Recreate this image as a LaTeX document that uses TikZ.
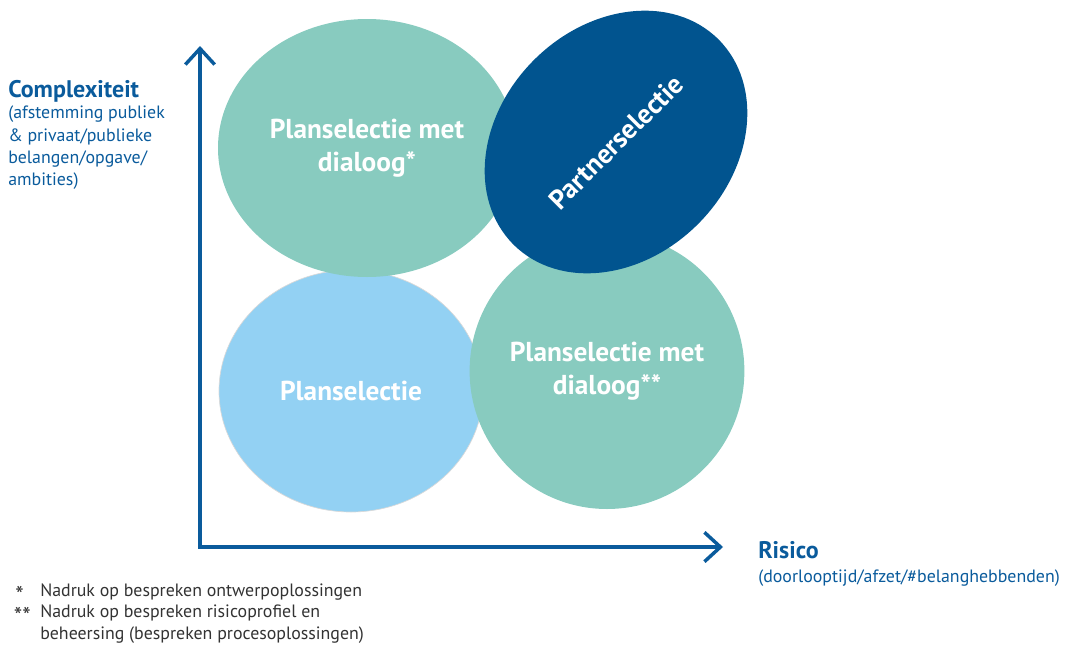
\documentclass[tikz,border=0pt]{standalone}
\usepackage{fontspec}
\setmainfont{PT Sans}
\usetikzlibrary{arrows.meta,%
	shapes.geometric}
\definecolor{groen}{HTML}{88CBBF}
\definecolor{lichtblauw}{HTML}{93D1F3}
\definecolor{donkerblauw}{HTML}{01548F}
\definecolor{asblauw}{HTML}{0A5B9C}
\definecolor{noot}{HTML}{333333}

\begin{document}
\begin{tikzpicture}[x=0.75pt,y=-0.75pt,
	bol/.style={ellipse,inner sep=0pt,text=white,align=center,
		font=\bfseries\fontsize{20.5}{24.5}\selectfont},
	as/.style={draw=asblauw,line width=2.6pt,line join=miter},
	aslabel/.style={text=asblauw,inner sep=0pt,font=\bfseries\fontsize{18}{20}\selectfont},
	astoel/.style={text=asblauw,inner sep=0pt,align=left,font=\fontsize{13.4}{16.7}\selectfont},
	voetnoot/.style={text=noot,inner sep=0pt,font=\fontsize{13.4}{15}\selectfont},
	ster/.style={text=noot,inner sep=0pt,font=\fontsize{18}{15}\selectfont}]
			\useasboundingbox (0,0) rectangle (1065,646);
			% bollen
			\node[bol,fill=lichtblauw,draw=black!15,line width=0.5pt,minimum width=198pt,minimum height=181.5pt] (plan) at (351,391) {Planselectie};
			\node[bol,fill=groen,minimum width=223.5pt,minimum height=193.5pt] (planD) at (367,148) {Planselectie met\\dialoog*};
			\node[bol,fill=groen,minimum width=205.5pt,minimum height=207pt] (planDD) at (607,371) {Planselectie met\\dialoog**};
			\node[bol,fill=donkerblauw,rotate=45,minimum width=217.5pt,minimum height=174pt] (partner) at (616,142) {Partnerselectie};
			% assen
			\coordinate (O) at (200,547);
			\coordinate (Ytop) at (200,46);
			\coordinate (Xend) at (723,547);
			\draw[as,{Straight Barb[length=12pt,width=22pt]}-{Straight Barb[length=12pt,width=22pt]}] (Ytop) -- (O) -- (Xend);
			% labels
			\node[aslabel,anchor=base west] (complex) at (8,97) {Complexiteit};
			\node[astoel,anchor=north west] (complexT) at (8,106) {(afstemming publiek\\\& privaat/publieke\\belangen/opgave/\\ambities)};
			\node[aslabel,anchor=base west] (risico) at (758,558) {Risico};
			\node[astoel,anchor=base west] (risicoT) at (758,582) {(doorlooptijd/afzet/\#belanghebbenden)};
			% voetnoten
			\node[ster,anchor=base east] (s1) at (24,603) {*};
			\node[voetnoot,anchor=base west] (n1) at (40,596) {Nadruk op bespreken ontwerpoplossingen};
			\node[ster,anchor=base east] (s2) at (31,624) {**};
			\node[voetnoot,anchor=base west] (n2) at (40,617) {Nadruk op bespreken risicoprofiel en};
			\node[voetnoot,anchor=base west] (n3) at (40,639) {beheersing (bespreken procesoplossingen)};
\end{tikzpicture}
\end{document}
